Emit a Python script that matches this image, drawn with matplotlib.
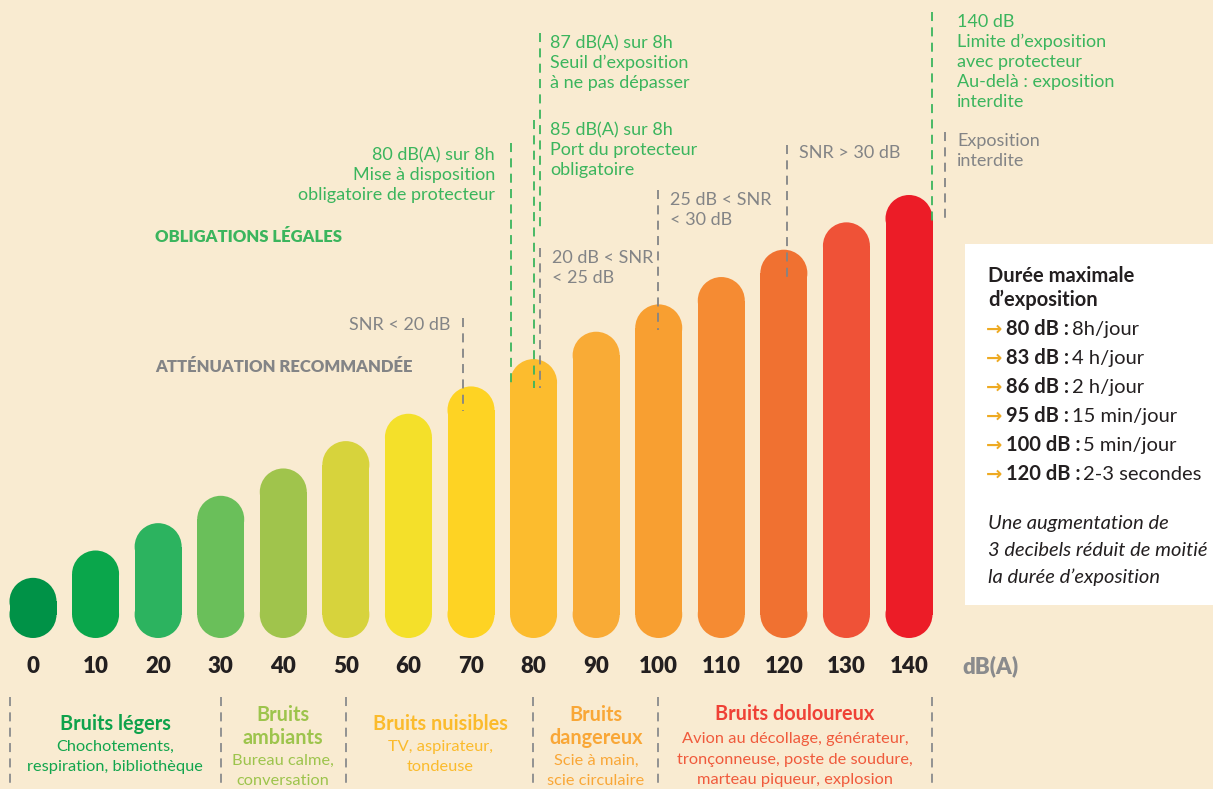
import matplotlib
matplotlib.use("Agg")
import matplotlib.pyplot as plt
from matplotlib.patches import Ellipse, Rectangle

# ---------------- data ----------------
levels = [0, 10, 20, 30, 40, 50, 60, 70, 80, 90, 100, 110, 120, 130, 140]
bar_colors = ["#009247", "#0aa64b", "#2cb35f", "#6abf5a", "#a0c44c", "#d7d33c",
              "#f4e02a", "#fed323", "#fcbc2e", "#f9ab36", "#f89f31", "#f58b33",
              "#f07131", "#ef5237", "#ec1c27"]
tick_labels = [str(v) for v in levels]
unit_label = "dB(A)"

durations_db = ["80 dB", "83 dB", "86 dB", "95 dB", "100 dB", "120 dB"]
durations_txt = ["8h/jour", "4 h/jour", "2 h/jour", "15 min/jour", "5 min/jour", "2-3 secondes"]

cat_titles = ["Bruits légers", "Bruits\nambiants", "Bruits nuisibles", "Bruits\ndangereux", "Bruits douloureux"]
cat_desc = ["Chochotements,\nrespiration, bibliothèque", "Bureau calme,\nconversation",
            "TV, aspirateur,\ntondeuse", "Scie à main,\nscie circulaire",
            "Avion au décollage, générateur,\ntronçonneuse, poste de soudure,\nmarteau piqueur, explosion"]
cat_colors = ["#0ea24b", "#9dc44c", "#fbbb2c", "#f9a737", "#ef4136"]
cat_desc_colors = ["#12a54d", "#9dc44c", "#fbbb2c", "#f9a737", "#f05a3c"]

# ---------------- layout ----------------
W, H = 1213, 789
BG = "#f9ebd1"
GREEN = "#3bb55d"
GRAY = "#838486"
DARK = "#231f20"
FONT = ["Lato", "DejaVu Sans"]

plt.rcParams["font.family"] = FONT

fig = plt.figure(figsize=(W / 100, H / 100), dpi=100)
fig.patch.set_facecolor(BG)

# bar axes (data units: dB)
ax_bottom_px, ax_top_px = 638, 195
base = -22
ax = fig.add_axes([0, 1 - ax_bottom_px / H, 1, (ax_bottom_px - ax_top_px) / H])
ax.set_facecolor("none")
x_scale = 876 / 140.0  # px per dB (x)
xlim = (-33 / x_scale, (W - 33) / x_scale)
ylim = (base, 140)
ax.set_xlim(*xlim)
ax.set_ylim(*ylim)
y_scale = (ax_bottom_px - ax_top_px) / (ylim[1] - ylim[0])
bw = 47 / x_scale
ry = (bw / 2) * x_scale / y_scale  # cap radius in y data units
heights = [v - base - 2 * ry for v in levels]
ax.bar(levels, heights, bottom=base + ry, width=bw, color=bar_colors, edgecolor="none")
for v, c in zip(levels, bar_colors):
    ax.add_patch(Ellipse((v, v - ry), bw, 2 * ry, facecolor=c, edgecolor="none"))
    ax.add_patch(Ellipse((v, base + ry), bw, 2 * ry, facecolor=c, edgecolor="none"))
for s in ax.spines.values():
    s.set_visible(False)
ax.set_yticks([])
ax.set_xticks(levels)
ax.set_xticklabels(tick_labels, fontsize=16, fontweight="heavy", color=DARK)
ax.tick_params(axis="x", length=0, pad=13)

# overlay axes in pixel coordinates for annotations
ov = fig.add_axes([0, 0, 1, 1])
ov.set_xlim(0, W)
ov.set_ylim(H, 0)
ov.axis("off")
ov.set_facecolor("none")


def lines(x, y0, text, dy=20, ha="left", **kw):
    for i, t in enumerate(text.split("\n")):
        ov.text(x, y0 + i * dy, t, ha=ha, va="center", **kw)


def dash(x, y0, y1, color):
    ov.plot([x, x], [y0, y1], color=color, lw=1.3, ls=(0, (5, 3.5)))


# unit label
ov.text(990, 666, unit_label, ha="center", va="center", fontsize=16,
        fontweight="heavy", color="#8a8b8d")

# dashed leaders
dash(511, 143, 383, GREEN)
dash(534, 120, 388, GREEN)
dash(540, 33, 227, GREEN)
dash(540, 248, 388, GRAY)
dash(463, 318, 411, GRAY)
dash(658, 190, 330, GRAY)
dash(787, 145, 278, GRAY)
dash(932, 12, 221, GREEN)
dash(945, 132, 222, GRAY)
for xs in [10, 221, 346, 533, 658, 932]:
    dash(xs, 697, 789, "#8a8b8d")

fs = 13
lines(495, 155, "80 dB(A) sur 8h\nMise à disposition\nobligatoire de protecteur", ha="right", fontsize=fs, color=GREEN)
ov.text(155, 237, "OBLIGATIONS LÉGALES", ha="left", va="center", fontsize=12, fontweight="heavy", color=GREEN)
ov.text(155, 367, "ATTÉNUATION RECOMMANDÉE", ha="left", va="center", fontsize=12, fontweight="heavy", color=GRAY)
lines(450, 325, "SNR < 20 dB", ha="right", fontsize=fs, color=GRAY)
lines(550, 43, "87 dB(A) sur 8h\nSeuil d’exposition\nà ne pas dépasser", fontsize=fs, color=GREEN)
lines(550, 130, "85 dB(A) sur 8h\nPort du protecteur\nobligatoire", fontsize=fs, color=GREEN)
lines(552, 258, "20 dB < SNR\n< 25 dB", fontsize=fs, color=GRAY)
lines(670, 200, "25 dB < SNR\n< 30 dB", fontsize=fs, color=GRAY)
lines(799, 153, "SNR > 30 dB", fontsize=fs, color=GRAY)
lines(957, 22, "140 dB\nLimite d’exposition\navec protecteur\nAu-delà : exposition\ninterdite", fontsize=fs, color=GREEN)
lines(957, 141, "Exposition\ninterdite", fontsize=fs, color=GRAY)

# white info box
bfs = 14.5
ov.add_patch(Rectangle((965, 244), W - 965, 605 - 244, facecolor="white", edgecolor="none"))
lines(988, 276, "Durée maximale\nd’exposition", dy=24, fontsize=bfs, fontweight="bold", color=DARK)
for i, (d, t) in enumerate(zip(durations_db, durations_txt)):
    y = 329 + i * 29
    ov.text(986, y, "→", ha="left", va="center", fontsize=14, color="#eeaa22",
            fontweight="bold", family=["DejaVu Sans"])
    b = ov.text(1006, y, d + " :", ha="left", va="center", fontsize=bfs, fontweight="bold", color=DARK)
    ov.annotate(t, xy=(1, 0.5), xycoords=b, xytext=(2, 0), textcoords="offset points",
                ha="left", va="center", fontsize=bfs, color=DARK)
lines(988, 524, "Une augmentation de\n3 decibels réduit de moitié\nla durée d’exposition", dy=26.5,
      fontsize=bfs, style="italic", color=DARK)

# bottom categories
cat_x = [115, 283, 440, 596, 795]
for x, t, d, c, dc in zip(cat_x, cat_titles, cat_desc, cat_colors, cat_desc_colors):
    nt = t.count("\n") + 1
    y0 = 724 if nt == 1 else 715
    if x == 795:
        y0 = 713.5
    lines(x, y0, t, dy=23, ha="center", fontsize=14.3, fontweight="bold", color=c)
    ydesc = y0 + 23 * nt
    if x == 795:
        ydesc = 739.5
    lines(x, ydesc, d, dy=20.3, ha="center", fontsize=11.8, color=dc)

fig.savefig("out.png", dpi=100, facecolor=BG)
